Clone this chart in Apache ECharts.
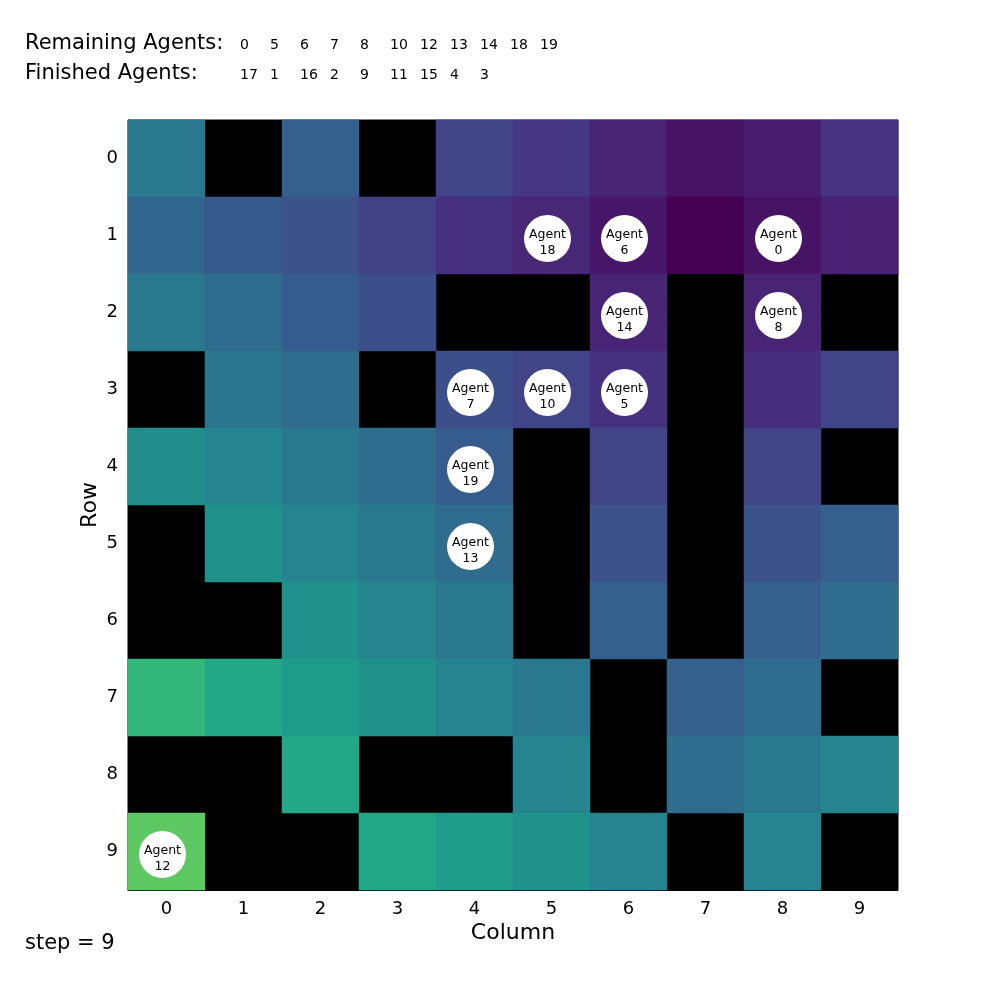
<!DOCTYPE html>
<html><head><meta charset="utf-8">
<script src="https://cdn.jsdelivr.net/npm/echarts@6/dist/echarts.min.js"></script>
<style>html,body{margin:0;padding:0;background:#fff}#c{width:1000px;height:1000px}</style>
</head><body><div id="c"></div>
<script>
// Cell values (viridis fraction 0..1); null = obstacle (black)
const rowLabels = ['0','1','2','3','4','5','6','7','8','9'];
const colLabels = ['0','1','2','3','4','5','6','7','8','9'];
const row0 = [0.40, null, 0.30, null, 0.20, 0.16, 0.10, 0.05, 0.08, 0.15];
const row1 = [0.33, 0.28, 0.25, 0.19, 0.14, 0.11, 0.06, 0.00, 0.05, 0.09];
const row2 = [0.40, 0.35, 0.29, 0.24, null, null, 0.10, null, 0.10, null];
const row3 = [null, 0.39, 0.35, null, 0.24, 0.20, 0.14, null, 0.13, 0.20];
const row4 = [0.49, 0.45, 0.40, 0.35, 0.29, null, 0.20, null, 0.20, null];
const row5 = [null, 0.50, 0.45, 0.40, 0.35, null, 0.25, null, 0.25, 0.30];
const row6 = [null, null, 0.50, 0.45, 0.40, null, 0.30, null, 0.30, 0.35];
const row7 = [0.66, 0.60, 0.55, 0.50, 0.45, 0.40, null, 0.30, 0.35, null];
const row8 = [null, null, 0.60, null, null, 0.45, null, 0.35, 0.40, 0.45];
const row9 = [0.75, null, null, 0.60, 0.55, 0.50, 0.45, null, 0.45, null];
const rows = [row0,row1,row2,row3,row4,row5,row6,row7,row8,row9];

const agentIds  = [18, 6, 0, 14, 8, 7, 10, 5, 19, 13, 12];
const agentRows = [1, 1, 1, 2, 2, 3, 3, 3, 4, 5, 9];
const agentCols = [5, 6, 8, 6, 8, 4, 5, 6, 4, 4, 0];

const remainingAgents = [0, 5, 6, 7, 8, 10, 12, 13, 14, 18, 19];
const finishedAgents  = [17, 1, 16, 2, 9, 11, 15, 4, 3];
const stepValue = 9;

const viridis = ['#440154','#471365','#482475','#463480','#414487','#3b528b','#355f8d','#2f6c8e','#2a788e','#25848e','#21918c','#1e9c89','#22a884','#2fb47c','#44bf70','#5ec962','#7ad151','#9bd93c','#bddf26','#dfe318','#fde725'];

const heat = [];
rows.forEach((r, ri) => r.forEach((v, ci) => { if (v !== null) heat.push([ci, ri, v]); }));
const agents = agentIds.map((id, i) => ({ value: [agentCols[i], agentRows[i]], name: String(id) }));

const F = 'DejaVu Sans';
const graphics = [];
graphics.push({ type:'text', left:25, top:33, style:{ text:'Remaining Agents:', font:'21px "DejaVu Sans"', fill:'#000' } });
graphics.push({ type:'text', left:25, top:63, style:{ text:'Finished Agents:', font:'21px "DejaVu Sans"', fill:'#000' } });
remainingAgents.forEach((a, i) => graphics.push({ type:'text', left:240 + i*30, top:38, style:{ text:String(a), font:'14px "DejaVu Sans"', fill:'#000' } }));
finishedAgents.forEach((a, i) => graphics.push({ type:'text', left:240 + i*30, top:68, style:{ text:String(a), font:'14px "DejaVu Sans"', fill:'#000' } }));
graphics.push({ type:'text', left:25, top:933, style:{ text:'step = ' + stepValue, font:'21px "DejaVu Sans"', fill:'#000' } });

const chart = echarts.init(document.getElementById('c'));
chart.setOption({
  backgroundColor: '#fff',
  animation: false,
  textStyle: { fontFamily: F },
  graphic: graphics,
  grid: { left: 128, top: 120, width: 770, height: 770, show: true, backgroundColor: '#000', borderColor: '#000', borderWidth: 1 },
  xAxis: {
    type: 'category', data: colLabels, name: 'Column', nameLocation: 'middle', nameGap: 32, nameMoveOverlap: false,
    nameTextStyle: { fontSize: 22, color: '#000', fontFamily: F },
    axisLine: { lineStyle: { color: '#000', width: 1 } },
    axisTick: { alignWithLabel: true, length: 5, lineStyle: { color: '#000' } },
    axisLabel: { fontSize: 18, color: '#000', fontFamily: F, margin: 10 },
    splitLine: { show: false }
  },
  yAxis: {
    type: 'category', data: rowLabels, inverse: true, name: 'Row', nameLocation: 'middle', nameGap: 27, nameMoveOverlap: false,
    nameTextStyle: { fontSize: 22, color: '#000', fontFamily: F },
    axisLine: { lineStyle: { color: '#000', width: 1 } },
    axisTick: { alignWithLabel: true, length: 5, lineStyle: { color: '#000' } },
    axisLabel: { fontSize: 18, color: '#000', fontFamily: F, margin: 10 },
    splitLine: { show: false }
  },
  visualMap: { show: false, min: 0, max: 1, dimension: 2, seriesIndex: 0, inRange: { color: viridis } },
  series: [
    { type: 'heatmap', data: heat, itemStyle: { borderWidth: 0 }, emphasis: { disabled: true } },
    { type: 'scatter', data: agents, symbol: 'circle', symbolSize: 47, symbolOffset: [-4, 3],
      itemStyle: { color: '#fff', opacity: 1 },
      label: { show: true, position: 'inside', offset: [0, 4], formatter: p => 'Agent\n' + p.name, color: '#000', fontSize: 12.5, lineHeight: 16, fontFamily: F },
      z: 5 }
  ]
});
</script></body></html>
